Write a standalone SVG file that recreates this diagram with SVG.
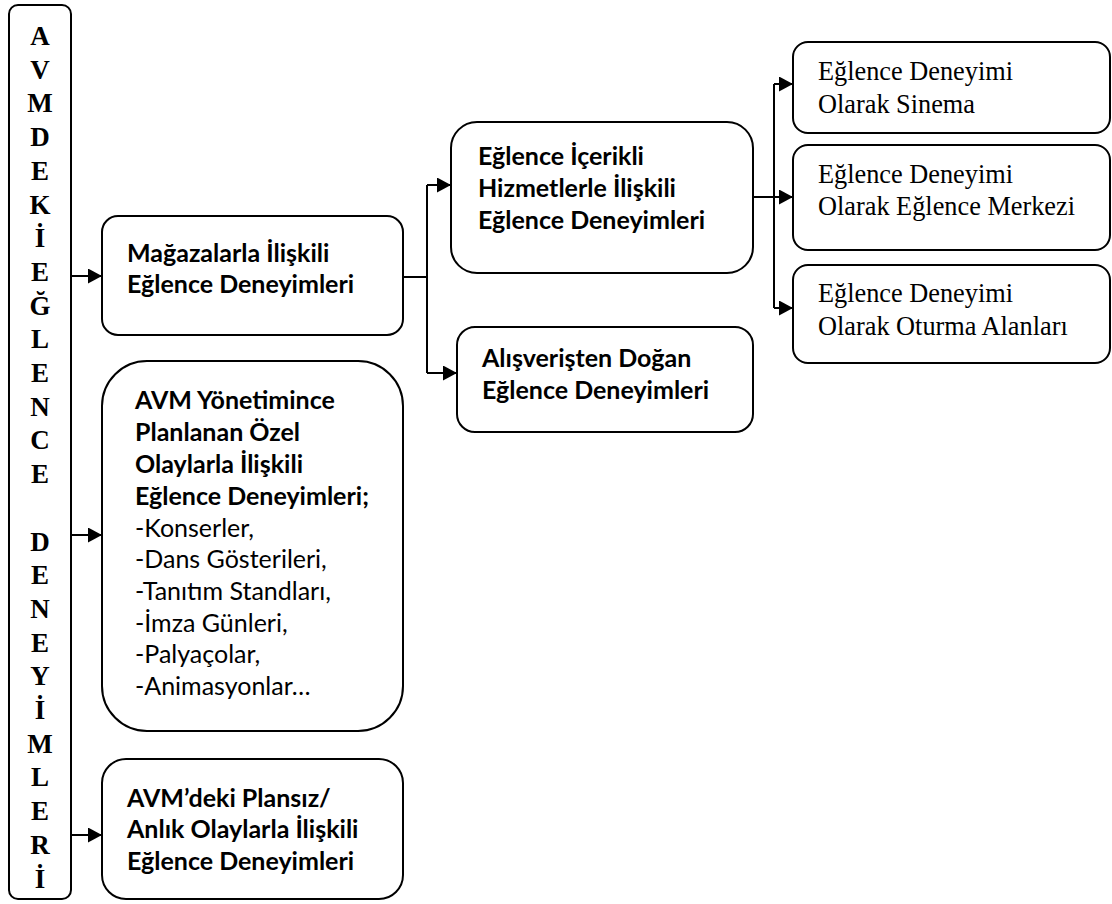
<svg xmlns="http://www.w3.org/2000/svg" width="1112" height="904" viewBox="0 0 1112 904">
  <style>
    .box { fill: #ffffff; stroke: #000000; stroke-width: 2; }
    .link { fill: none; stroke: #000000; stroke-width: 2; }
    .arr { marker-end: url(#head); }
    .sans { font-family: Lato, "Open Sans", "Liberation Sans", sans-serif; font-size: 25px; fill: #000000; }
    .b { font-weight: bold; }
    .serif { font-family: "Liberation Serif", "Times New Roman", serif; font-size: 26.3px; fill: #000000; }
    .col { font-family: "Liberation Serif", "Times New Roman", serif; font-size: 27px; font-weight: bold; fill: #000000; text-anchor: middle; }
  </style>
  <defs>
    <marker id="head" viewBox="0 0 14 15" refX="14" refY="7.5" markerWidth="14" markerHeight="15" markerUnits="userSpaceOnUse" orient="auto">
      <path d="M0,0 L14,7.5 L0,15 Z" fill="#000000"/>
    </marker>
  </defs>
  <rect width="1112" height="904" fill="#ffffff"/>

  <!-- vertical title column -->
  <g id="root">
    <rect class="box" x="9" y="5" width="62" height="894" rx="9"/>
    <text class="col" x="40" y="45">A</text>
    <text class="col" x="40" y="78.7">V</text>
    <text class="col" x="40" y="112.4">M</text>
    <text class="col" x="40" y="146.1">D</text>
    <text class="col" x="40" y="179.8">E</text>
    <text class="col" x="40" y="213.5">K</text>
    <text class="col" x="40" y="247.2">İ</text>
    <text class="col" x="40" y="280.9">E</text>
    <text class="col" x="40" y="314.6">Ğ</text>
    <text class="col" x="40" y="348.3">L</text>
    <text class="col" x="40" y="382">E</text>
    <text class="col" x="40" y="415.7">N</text>
    <text class="col" x="40" y="449.4">C</text>
    <text class="col" x="40" y="483.1">E</text>
    <text class="col" x="40" y="550.5">D</text>
    <text class="col" x="40" y="584.2">E</text>
    <text class="col" x="40" y="617.9">N</text>
    <text class="col" x="40" y="651.6">E</text>
    <text class="col" x="40" y="685.3">Y</text>
    <text class="col" x="40" y="719">İ</text>
    <text class="col" x="40" y="752.7">M</text>
    <text class="col" x="40" y="786.4">L</text>
    <text class="col" x="40" y="820.1">E</text>
    <text class="col" x="40" y="853.8">R</text>
    <text class="col" x="40" y="887.5">İ</text>
  </g>

  <!-- connectors -->
  <g id="connectors">
    <path class="link arr" d="M71,276 H102"/>
    <path class="link arr" d="M71,535 H102"/>
    <path class="link arr" d="M71,835 H102"/>
    <path class="link" d="M403,277 H427 M427,185 V373"/>
    <path class="link arr" d="M427,185 H451"/>
    <path class="link arr" d="M427,373 H457"/>
    <path class="link" d="M753,197 H774 M774,84 V308"/>
    <path class="link arr" d="M774,84 H793"/>
    <path class="link arr" d="M774,197 H793"/>
    <path class="link arr" d="M774,308 H793"/>
  </g>

  <g id="magazalar">
    <rect class="box" x="102" y="216" width="301" height="119" rx="16"/>
    <text class="sans b" x="127" y="262">Mağazalarla İlişkili</text>
    <text class="sans b" x="127" y="293">Eğlence Deneyimleri</text>
  </g>

  <g id="planli">
    <rect class="box" x="102" y="361" width="301" height="370" rx="45"/>
    <text class="sans b" x="135" y="409">AVM Yönetimince</text>
    <text class="sans b" x="135" y="441">Planlanan Özel</text>
    <text class="sans b" x="135" y="473">Olaylarla İlişkili</text>
    <text class="sans b" x="135" y="505">Eğlence Deneyimleri;</text>
    <text class="sans" x="135" y="537">-Konserler,</text>
    <text class="sans" x="135" y="568">-Dans Gösterileri,</text>
    <text class="sans" x="135" y="600">-Tanıtım Standları,</text>
    <text class="sans" x="135" y="632">-İmza Günleri,</text>
    <text class="sans" x="135" y="663">-Palyaçolar,</text>
    <text class="sans" x="135" y="695">-Animasyonlar…</text>
  </g>

  <g id="plansiz">
    <rect class="box" x="102" y="759" width="301" height="140" rx="24"/>
    <text class="sans b" x="127" y="807">AVM’deki Plansız/</text>
    <text class="sans b" x="127" y="838">Anlık Olaylarla İlişkili</text>
    <text class="sans b" x="127" y="870">Eğlence Deneyimleri</text>
  </g>

  <g id="icerikli">
    <rect class="box" x="451" y="122" width="302" height="151" rx="26"/>
    <text class="sans b" x="478" y="165">Eğlence İçerikli</text>
    <text class="sans b" x="478" y="197">Hizmetlerle İlişkili</text>
    <text class="sans b" x="478" y="229">Eğlence Deneyimleri</text>
  </g>

  <g id="alisveris">
    <rect class="box" x="457" y="327" width="296" height="105" rx="18"/>
    <text class="sans b" x="482" y="367">Alışverişten Doğan</text>
    <text class="sans b" x="482" y="399">Eğlence Deneyimleri</text>
  </g>

  <g id="sinema">
    <rect class="box" x="793" y="42" width="317" height="91" rx="15"/>
    <text class="serif" x="818" y="80">Eğlence Deneyimi</text>
    <text class="serif" x="818" y="113">Olarak Sinema</text>
  </g>

  <g id="merkez">
    <rect class="box" x="793" y="145" width="317" height="105" rx="15"/>
    <text class="serif" x="818" y="183">Eğlence Deneyimi</text>
    <text class="serif" x="818" y="215">Olarak Eğlence Merkezi</text>
  </g>

  <g id="oturma">
    <rect class="box" x="793" y="265" width="317" height="98" rx="15"/>
    <text class="serif" x="818" y="302">Eğlence Deneyimi</text>
    <text class="serif" x="818" y="335">Olarak Oturma Alanları</text>
  </g>
</svg>
